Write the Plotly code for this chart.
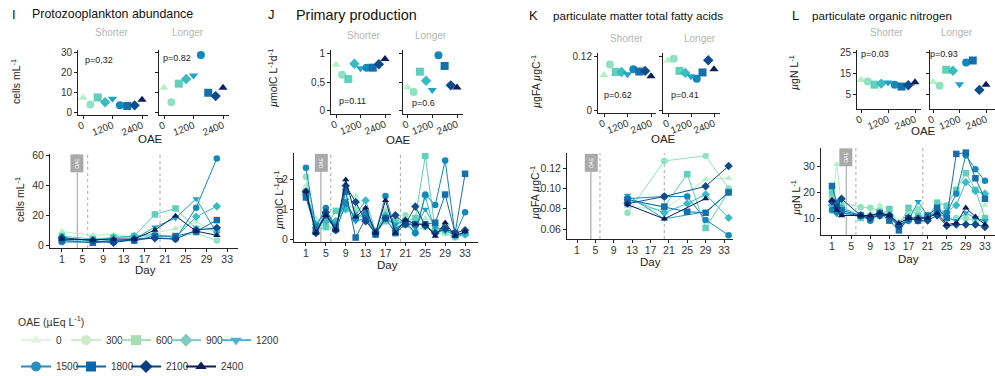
import plotly.graph_objects as go

W, H = 995, 376
FONT = "Liberation Sans, Arial, Helvetica, sans-serif"

# ---------------- data ----------------
oae_levels = [0, 300, 600, 900, 1200, 1500, 1800, 2100, 2400]
oae_labels = ["0", "300", "600", "900", "1200", "1500", "1800", "2100", "2400"]
plot_colors = ["#b3f0c6", "#8fe3c0", "#5fd0b9", "#36bcc2", "#1ca3c6",
               "#1388bb", "#156fab", "#0f4c8e", "#0c1d5c"]
legend_colors = ["#e3f4de", "#cdebc6", "#a8dcb2", "#7fcbc4", "#4eb3d3",
                 "#2b8cbe", "#0868ac", "#084081", "#0b1d5a"]
symbols = ["triangle-up", "circle", "square", "diamond", "triangle-down",
           "circle", "square", "diamond", "triangle-up"]

day_ticks = [1, 5, 9, 13, 17, 21, 25, 29, 33]

# I: protozooplankton (cells mL-1)
I_short = [7.2, 3.8, 7.4, 5.0, 6.7, 3.4, 3.1, 3.4, 6.2]
I_long = [12.3, 5.0, 14.4, 16.8, 18.5, 29.0, 9.8, 8.1, 12.3]
I_days = [1, 7, 11, 15, 19, 23, 27, 31]
I_series = [
    [9, 6.5, 7, 5.5, 8, 11, 15.5, 8],
    [5, 3, 5, 5, 6, 5, 8, 3],
    [6, 4, 5, 6, 20.5, 24.5, 11, 10],
    [4, 3, 5, 6, 7, 5, 18.9, 26],
    [3, 4, 3, 4, 12, 18, 31, 8],
    [2, 2, 3, 3, 5, 4, 25, 58],
    [3, 1.5, 2.5, 3, 6, 6, 9, 16.7],
    [5, 3, 1.5, 4, 4.5, 4, 10, 11.5],
    [4, 3.5, 4, 4, 10, 19.5, 9.3, 6.5],
]

# J: primary production (umolC L-1 d-1)
J_short = [0.81, 0.635, 0.56, 0.83, 0.75, 0.76, 0.76, 0.82, 0.91]
J_long = [0.41, 0.335, 0.69, 0.53, 0.37, 0.98, 0.79, 0.45, 0.41]
J_days = [1, 3, 5, 7, 9, 11, 13, 15, 17, 19, 21, 23, 25, 27, 29, 31, 33]
J_series = [
    [1.8, 0.7, 0.6, 0.5, 1.4, 1.45, 0.9, 0.2, 1.0, 0.5, 0.7, 0.5, 0.7, 0.3, 0.3, 0.1, 0.2],
    [2.1, 0.4, 0.5, 0.3, 1.2, 1.0, 0.8, 0.15, 0.9, 0.2, 0.8, 0.3, 0.4, 0.2, 0.2, 0.05, 0.15],
    [1.6, 0.3, 0.4, 0.95, 1.1, 0.7, 0.8, 0.2, 0.6, 0.6, 0.6, 0.7, 2.8, 0.3, 0.4, 0.1, 0.2],
    [1.5, 0.5, 0.6, 0.6, 1.0, 0.8, 1.3, 0.25, 0.8, 0.4, 0.5, 0.2, 1.45, 0.2, 0.3, 0.1, 0.15],
    [1.6, 0.5, 0.9, 0.5, 1.3, 0.6, 0.7, 0.2, 0.7, 0.5, 0.6, 0.4, 1.0, 0.4, 0.3, 0.15, 0.2],
    [2.4, 0.4, 1.05, 0.3, 1.2, 0.7, 0.9, 0.2, 1.45, 0.3, 0.6, 0.2, 1.5, 1.15, 2.65, 0.15, 0.9],
    [1.4, 0.3, 0.8, 0.4, 1.6, 0.05, 0.7, 0.15, 0.7, 0.2, 0.5, 0.5, 0.5, 0.55, 1.5, 0.2, 2.2],
    [1.6, 0.2, 0.9, 0.3, 1.8, 1.25, 0.6, 0.2, 0.7, 0.8, 0.5, 1.1, 0.45, 0.2, 0.35, 0.2, 0.3],
    [1.6, 0.2, 0.8, 0.3, 2.0, 0.75, 1.05, 0.2, 1.3, 0.2, 0.65, 0.5, 0.5, 0.1, 0.55, 0.1, 0.25],
]

# K: particulate matter total fatty acids (ugFA ugC-1)
K_short = [0.079, 0.103, 0.086, 0.086, 0.081, 0.092, 0.087, 0.0885, 0.0765]
K_long = [0.112, 0.116, 0.0885, 0.084, 0.0765, 0.071, 0.085, 0.1125, 0.092]
K_days = [12, 20, 25, 29, 34]
K_series = [
    [0.082, 0.079, None, 0.109, 0.110],
    [0.076, 0.127, None, 0.132, 0.100],
    [0.088, 0.082, 0.114, 0.061, 0.097],
    [0.090, 0.076, 0.085, 0.094, 0.071],
    [0.093, 0.070, None, 0.077, 0.096],
    [0.090, 0.092, 0.092, 0.069, 0.054],
    [0.089, 0.082, 0.077, 0.076, 0.096],
    [0.085, 0.092, None, 0.102, 0.122],
    [0.084, 0.070, None, 0.090, None],
]

# L: particulate organic nitrogen (ugN L-1)
L_short = [12.2, 11.4, 9.9, 10.4, 10.9, 9.9, 9.0, 9.6, 11.0]
L_long = [11.2, 9.4, 17.0, 16.5, 10.1, 20.5, 21.4, 7.4, 9.8]
L_reg_x = [0, 2400]
L_reg_y = [11.8, 9.7]
L_days = [1, 2, 3, 7, 9, 11, 13, 15, 17, 19, 21, 23, 25, 27, 29, 31, 33]
L_series = [
    [16, 31, 14, 12, 11, 15, 13, 9, 10, 11, 11, 13, 10, 9, 10, 9, 15],
    [18, 14, 16, 14.2, 14, 13, 11, 8, 12, 13.5, 11, 13, 10, 10, 10, 9, 9],
    [20, 15, 14, 10, 10, 11, 13.5, 7, 14, 11, 10, 16, 14.8, 21, 27.5, 21, 10],
    [15, 13, 14, 11, 11, 12, 10, 7, 9, 10, 10, 13, 12.5, 15, 24, 20.5, 19.5],
    [13.5, 11.5, 12, 11, 10, 11, 11, 6, 9, 16.4, 11, 12, 10, 9, 12, 10, 9],
    [13, 12.5, 12, 11, 9, 12, 11, 7, 9, 10, 10, 12, 12, 19.5, 34.5, 29, 24.5],
    [22.5, 16, 13, 11, 10, 12, 9, 5.2, 10, 9, 11, 14, 10, 35, 35.5, 25.5, 17.5],
    [16.5, 14, 17.5, 11, 10, 11, 11, 7, 10, 9, 9, 11, 7, 7.5, 7.5, 7.5, 6.5],
    [17, 13, 11, 11, 11, 12, 11, 8, 10, 10, 10, 12, 7.5, 8, 14, 10.5, 7.5],
]

oae_day = 4
phase_days = [6, 20]

# ---------------- layout geometry (pixels) ----------------
panels = [
    dict(letter="I", title="Protozooplankton abundance", tsize=12.4, tx=30, ty=14, lx=10,
         small=[(78, 70, 5, 64), (159, 70, 5, 64)], sy=(50, 115), syr=[-1.5, 31.5],
         sticks=[0, 10, 20, 30], stext=["0", "10", "20", "30"],
         shorter=(111, 33), longer=(188, 33), oae=(150, 139),
         p=[("p=0,32", 83, 60), ("p=0.82", 161, 58)],
         ylab_top=("cells mL<sup>-1</sup>", 15, 82),
         bx=(50, 238), bxr=[-1.3, 35.1], by=(154, 248), byr=[-2, 61],
         bticks=[0, 20, 40, 60], btext=["0", "20", "40", "60"],
         ylab_bot=("cells mL<sup>-1</sup>", 19, 200), day=(145, 270),
         short=I_short, long=I_long, days=I_days, series=I_series),
    dict(letter="J", title="Primary production", tsize=14.4, tx=294, ty=15, lx=266,
         small=[(331, 60, 5, 54), (403, 60, 4.5, 54)], sy=(50, 114), syr=[-0.053, 1.07],
         sticks=[0, 0.5, 1], stext=["0", "0,5", "1"],
         shorter=(363, 35), longer=(431, 35), oae=(398, 140),
         p=[("p=0.11", 337, 101), ("p=0.6", 410, 103)],
         ylab_top=("<i>µ</i>molC L<sup>-1</sup>d<sup>-1</sup>", 273, 78),
         bx=(294, 478), bxr=[-1.4, 35.6], by=(153, 242), byr=[-0.1, 2.9],
         bticks=[0, 1, 2], btext=["0", "1", "2"],
         ylab_bot=("<i>µ</i>molC L<sup>-1</sup>d<sup>-1</sup>", 278, 200), day=(387, 265),
         short=J_short, long=J_long, days=J_days, series=J_series),
    dict(letter="K", title="particulate matter total fatty acids", tsize=11.6, tx=551, ty=16, lx=527,
         small=[(598, 58, 6, 53), (663, 57, 5, 51)], sy=(53, 113), syr=[-0.0068, 0.129],
         sticks=[0, 0.12], stext=["0", "0.12"],
         shorter=(626, 38), longer=(700, 38), oae=(663, 139),
         p=[("p=0.62", 602, 95), ("p=0.41", 669, 95)],
         ylab_top=("<i>µ</i>gFA <i>µ</i>gC<sup>-1</sup>", 535, 82),
         bx=(567, 733), bxr=[-1.18, 34.96], by=(153, 239), byr=[0.0502, 0.1348],
         bticks=[0.06, 0.08, 0.10, 0.12], btext=["0.06", "0.08", "0.10", "0.12"],
         ylab_bot=("<i>µ</i>gFA <i>µ</i>gC<sup>-1</sup>", 534, 193), day=(650, 262),
         short=K_short, long=K_long, days=K_days, series=K_series),
    dict(letter="L", title="particulate organic nitrogen", tsize=11.6, tx=810, ty=16, lx=790,
         small=[(857, 64, 4, 58), (930, 65, 3, 56)], sy=(50, 109), syr=[-1.7, 26.4],
         sticks=[5, 15, 25], stext=["5", "15", "25"],
         shorter=(886, 33), longer=(957, 33), oae=(923, 131),
         p=[("p=0.03", 859, 54), ("p=0.93", 928, 54)],
         ylab_top=("<i>µ</i>gN L<sup>-1</sup>", 793, 73),
         bx=(821, 995), bxr=[-1.3, 35.1], by=(148, 235), byr=[3.4, 37.3],
         bticks=[10, 20, 30], btext=["10", "20", "30"],
         ylab_bot=("<i>µ</i>gN L<sup>-1</sup>", 796, 198), day=(908, 259),
         short=L_short, long=L_long, days=L_days, series=L_series),
]


def xdom(a, b):
    return [max(0, a / W), min(1, b / W)]


def ydom(top, bottom):
    return [1 - bottom / H, 1 - top / H]


fig = go.Figure()
layout = {}
annotations = []
shapes = []

axis_common = dict(showgrid=False, zeroline=False, showline=True, linecolor="#222222",
                   linewidth=1, ticks="outside", ticklen=3, tickcolor="#222222",
                   tickfont=dict(size=10, color="#333333", family=FONT), fixedrange=True,
                   automargin=False)


def ann(text, x, y, size=10, color="#222222", xanchor="center", yanchor="middle", angle=0):
    annotations.append(dict(text=text, x=x / W, y=1 - y / H, xref="paper", yref="paper",
                            showarrow=False, xanchor=xanchor, yanchor=yanchor,
                            textangle=angle, font=dict(size=size, color=color, family=FONT)))


for pi, P in enumerate(panels):
    base = 3 * pi
    # small plots
    for si, (L0, w, a, b) in enumerate(P["small"]):
        idx = base + si + 1
        s = (b - a) / 2400.0
        xr = [-a / s, (w - a) / s]
        xa = dict(axis_common, domain=xdom(L0, L0 + w), range=xr, anchor="y%d" % idx,
                  tickvals=[0, 1200, 2400], ticktext=["0", "1200", "2400"], tickangle=-22,
                  ticklabelstandoff=-3)
        ya = dict(axis_common, domain=ydom(*P["sy"]), range=P["syr"], anchor="x%d" % idx,
                  tickvals=P["sticks"], ticktext=P["stext"], showticklabels=(si == 0))
        layout["xaxis%d" % idx] = xa
        layout["yaxis%d" % idx] = ya
        vals = P["short"] if si == 0 else P["long"]
        if P["letter"] == "L" and si == 0:
            fig.add_trace(go.Scatter(x=L_reg_x, y=L_reg_y, mode="lines",
                                     line=dict(color="#e4736b", width=1.5),
                                     showlegend=False, hoverinfo="skip",
                                     xaxis="x%d" % idx, yaxis="y%d" % idx))
        for k in range(9):
            fig.add_trace(go.Scatter(x=[oae_levels[k]], y=[vals[k]], mode="markers",
                                     marker=dict(color=plot_colors[k], symbol=symbols[k], size=8,
                                                 line=dict(width=0)),
                                     showlegend=False, xaxis="x%d" % idx, yaxis="y%d" % idx))
    # bottom time-series plot
    idx = base + 3
    xa = dict(axis_common, domain=xdom(*P["bx"]), range=P["bxr"], anchor="y%d" % idx,
              tickvals=day_ticks, ticktext=[str(d) for d in day_ticks],
              tickfont=dict(size=10.5, color="#333333", family=FONT), ticklabelstandoff=-2)
    ya = dict(axis_common, domain=ydom(*P["by"]), range=P["byr"], anchor="x%d" % idx,
              tickvals=P["bticks"], ticktext=P["btext"],
              tickfont=dict(size=10.5, color="#333333", family=FONT))
    layout["xaxis%d" % idx] = xa
    layout["yaxis%d" % idx] = ya
    for k in range(9):
        fig.add_trace(go.Scatter(x=P["days"], y=P["series"][k], mode="lines+markers",
                                 connectgaps=True,
                                 line=dict(color=plot_colors[k], width=1),
                                 marker=dict(color=plot_colors[k], symbol=symbols[k], size=6.5,
                                             line=dict(width=0)),
                                 showlegend=False, xaxis="x%d" % idx, yaxis="y%d" % idx))
    # phase lines
    for d in phase_days:
        shapes.append(dict(type="line", xref="x%d" % idx, yref="y%d domain" % idx,
                           x0=d, x1=d, y0=0, y1=1,
                           line=dict(color="#aaaaaa", width=1, dash="dot"), layer="below"))
    shapes.append(dict(type="line", xref="x%d" % idx, yref="y%d domain" % idx,
                       x0=oae_day, x1=oae_day, y0=0, y1=0.8,
                       line=dict(color="#bbbbbb", width=1.5), layer="below"))
    annotations.append(dict(text="OAE", x=oae_day, y=1.0, xref="x%d" % idx,
                            yref="y%d domain" % idx, showarrow=False, xanchor="center",
                            yanchor="top", textangle=-90, bgcolor="#aaaaaa", borderpad=3,
                            font=dict(size=5, color="white", family=FONT)))
    # texts
    ann(P["letter"], P["lx"], P["ty"], size=13, color="#111111", xanchor="left")
    ann(P["title"], P["tx"], P["ty"], size=P["tsize"], color="#111111", xanchor="left")
    ann("Shorter", P["shorter"][0], P["shorter"][1], size=10, color="#b5b5b5")
    ann("Longer", P["longer"][0], P["longer"][1], size=10, color="#b5b5b5")
    ann("OAE", P["oae"][0], P["oae"][1], size=11.5, color="#222222")
    for txt, px, py in P["p"]:
        ann(txt, px, py, size=9, color="#222222", xanchor="left")
    t, px, py = P["ylab_top"]
    ann(t, px, py, size=10.5, angle=-90)
    t, px, py = P["ylab_bot"]
    ann(t, px, py, size=10.5, angle=-90)
    ann("Day", P["day"][0], P["day"][1], size=11.5)

# legend entries (no data, legend only)
for k in range(9):
    fig.add_trace(go.Scatter(x=[None], y=[None], mode="lines+markers", name=oae_labels[k],
                             line=dict(color=legend_colors[k], width=2),
                             marker=dict(color=legend_colors[k], symbol=symbols[k], size=10),
                             showlegend=True, legend="legend" if k < 5 else "legend2",
                             xaxis="x1", yaxis="y1"))
# blank spacer entries so the last label of each legend row is not clipped
for lg in ["legend", "legend2"]:
    fig.add_trace(go.Scatter(x=[None], y=[None], mode="lines", name=" ",
                             line=dict(color="rgba(0,0,0,0)", width=0),
                             showlegend=True, legend=lg, xaxis="x1", yaxis="y1"))

leg_common = dict(orientation="h", xanchor="left", yanchor="top", bgcolor="rgba(0,0,0,0)",
                  font=dict(size=10, color="#333333", family=FONT),
                  entrywidthmode="pixels", itemwidth=30, tracegroupgap=0, itemclick=False)
layout["legend"] = dict(leg_common, x=16 / W, y=1 - 312 / H, entrywidth=5,
                        title=dict(text="OAE (µEq L<sup>-1</sup>)", side="top",
                                   font=dict(size=10.5, color="#333333", family=FONT)))
layout["legend2"] = dict(leg_common, x=16 / W, y=1 - 352 / H, entrywidth=10)

fig.update_layout(width=W, height=H, margin=dict(l=0, r=0, t=0, b=0, autoexpand=False),
                  paper_bgcolor="white", plot_bgcolor="white",
                  font=dict(family=FONT, size=10, color="#222222"),
                  annotations=annotations, shapes=shapes, **layout)

fig.write_html("out.html", config={"displayModeBar": False},
               post_script="document.body.style.margin='0';document.body.style.padding='0';"
                           "document.body.style.overflow='hidden';")
